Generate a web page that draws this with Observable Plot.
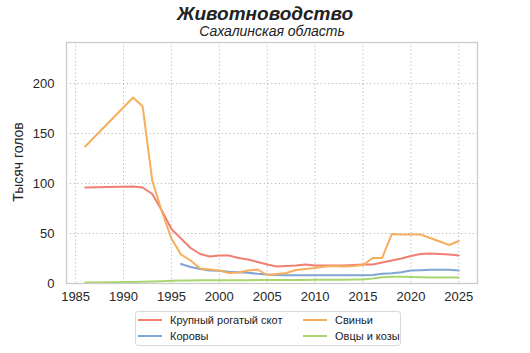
<!DOCTYPE html>
<html>
<head>
<meta charset="utf-8">
<script src="https://cdn.jsdelivr.net/npm/d3@7"></script>
<script src="https://cdn.jsdelivr.net/npm/@observablehq/plot@0.6"></script>
<style>
  html, body { margin: 0; padding: 0; background: #fff; }
  #wrap { position: relative; width: 530px; height: 353px; overflow: hidden; font-family: "Liberation Sans", Arial, sans-serif; color: #222; }
  #title { position: absolute; left: 0; top: 4px; width: 530px; height: 20px; text-align: center; font-size: 19px; font-weight: bold; font-style: italic; line-height: 20px; }
  #subtitle { position: absolute; left: 14px; top: 24px; width: 516px; height: 14px; text-align: center; font-size: 14px; font-style: italic; line-height: 14px; }
  #chart { position: absolute; left: 0; top: 36px; }
  #ylabel { position: absolute; left: 18px; top: 162px; transform: translate(-50%, -50%) rotate(-90deg); white-space: nowrap; font-size: 14px; line-height: 14px; color: #222; }
  #legend { position: absolute; left: 135px; top: 311px; width: 266px; height: 35px; border: 1px solid #d9d9d9; border-radius: 3px; box-sizing: border-box; font-size: 11px; color: #222; }
  .item { position: absolute; display: flex; align-items: center; height: 14px; }
  .sw { width: 24px; height: 0; border-top: 2px solid; margin-right: 8px; }
</style>
</head>
<body>
<div id="wrap">
  <div id="title">Животноводство</div>
  <div id="subtitle">Сахалинская область</div>
  <div id="chart"></div>
  <div id="ylabel"></div>
  <div id="legend"></div>
</div>
<script>
const years = [1986, 1991, 1992, 1993, 1994, 1995, 1996, 1997, 1998, 1999, 2000,
  2001, 2002, 2003, 2004, 2005, 2006, 2007, 2008, 2009, 2010,
  2011, 2012, 2013, 2014, 2015, 2016, 2017, 2018, 2019, 2020,
  2021, 2022, 2023, 2024, 2025];

const cattle = [96, 97, 96, 89.5, 73, 54.5, 45, 35.5, 29.5, 27, 28,
  28, 25.5, 24, 21.5, 19, 17, 17.5, 18, 19, 18,
  18, 18, 18, 18.5, 19, 19, 21, 23, 25, 27.5,
  29.5, 30, 29.5, 29, 28];

const cows = [null, null, null, null, null, null, 19.5, 16.5, 14.5, 13, 12.7,
  11.7, 11.3, 10.7, 9.7, 9, 8.5, 8.3, 8.3, 8.3, 8.3,
  8.3, 8.3, 8.3, 8.3, 8.3, 8.5, 9.7, 10.3, 11.3, 13,
  13.3, 13.7, 13.7, 13.7, 13];

const pigs = [137, 186, 177, 103, 72, 45, 29, 23, 15, 14, 13,
  10.5, 11, 13, 14, 8.5, 9.5, 10.5, 13.5, 14.5, 15.5,
  17, 17.5, 17, 17.5, 18.5, 25.5, 25.5, 49.5, 49, 49,
  49, 45.5, 42, 38.5, 42.5];

const sheepGoats = [1, 1.5, 1.7, 2, 2.3, 2.8, 3, 3.1, 3.2, 3.2, 3.3,
  3.3, 3.3, 3.3, 3.4, 3.5, 3.5, 3.5, 3.6, 3.6, 3.7,
  3.7, 3.8, 3.8, 3.9, 4, 5, 6.3, 6.8, 6.8, 6.5,
  6.3, 6, 6, 6, 6];

const seriesNames = ["Крупный рогатый скот", "Коровы", "Свиньи", "Овцы и козы"];
const seriesColors = ["#f07f72", "#7ea6d1", "#f6ae5e", "#a8d66e"];
const seriesValues = [cattle, cows, pigs, sheepGoats];

const xTicks = [1985, 1990, 1995, 2000, 2005, 2010, 2015, 2020, 2025];
const yTicks = [0, 50, 100, 150, 200];
const yLabel = "Тысяч голов";

const rows = [];
seriesNames.forEach((name, s) => {
  years.forEach((yr, i) => {
    const v = seriesValues[s][i];
    rows.push({series: name, year: yr, value: v == null ? NaN : v});
  });
});

const plot = Plot.plot({
  width: 530,
  height: 270,
  marginTop: 6,
  marginBottom: 23,
  marginLeft: 66,
  marginRight: 53,
  style: {fontFamily: "'Liberation Sans', Arial, sans-serif", fontSize: "13px", color: "#262626", background: "#fff"},
  x: {domain: [1984.05, 2026.95]},
  y: {domain: [0, 241]},
  color: {domain: seriesNames, range: seriesColors},
  marks: [
    Plot.gridX(xTicks, {stroke: "#b8b8b8", strokeOpacity: 1, strokeDasharray: "1.2,2.6", strokeWidth: 1}),
    Plot.gridY(yTicks, {stroke: "#b8b8b8", strokeOpacity: 1, strokeDasharray: "1.2,2.6", strokeWidth: 1}),
    Plot.axisX(xTicks, {tickSize: 0, tickPadding: 8, tickFormat: d => String(d), label: null, fontSize: 13}),
    Plot.axisY(yTicks, {tickSize: 0, tickPadding: 12, label: null, fontSize: 13}),
    Plot.line(rows, {x: "year", y: "value", z: "series", stroke: "series", strokeWidth: 2}),
    Plot.frame({stroke: "#cccccc", strokeWidth: 1.3})
  ]
});
document.getElementById("chart").appendChild(plot);
document.getElementById("ylabel").textContent = yLabel;

const legend = document.getElementById("legend");
const pos = [[2, 1], [2, 17], [167, 1], [167, 17]];
[0, 1, 2, 3].forEach((s, k) => {
  const it = document.createElement("div");
  it.className = "item";
  it.style.left = pos[k][0] + "px";
  it.style.top = pos[k][1] + "px";
  const sw = document.createElement("span");
  sw.className = "sw";
  sw.style.borderTopColor = seriesColors[s];
  const tx = document.createElement("span");
  tx.textContent = seriesNames[s];
  it.appendChild(sw);
  it.appendChild(tx);
  legend.appendChild(it);
});
</script>
</body>
</html>
